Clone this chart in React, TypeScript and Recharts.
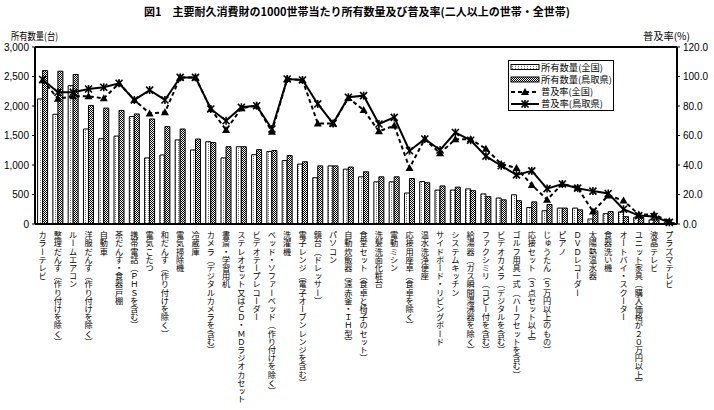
import React from 'react';
import { ComposedChart, Bar, Line, XAxis, YAxis, Legend, ReferenceLine } from 'recharts';

const categories = [
  'カラーテレビ', '整理だんす（作り付けを除く）', 'ルームエアコン', '洋服だんす（作り付けを除く）', '自動車',
  '茶だんす・食器戸棚', '携帯電話（ＰＨＳを含む）', '電気こたつ', '和だんす（作り付けを除く）', '電気掃除機',
  '冷蔵庫', 'カメラ（デジタルカメラを含む）', '書斎・学習用机', 'ステレオセット又はＣＤ・ＭＤラジオカセット',
  'ビデオテープレコーダー', 'ベッド・ソファーベッド（作り付けを除く）', '洗濯機', '電子レンジ（電子オーブンレンジを含む）',
  '鏡台（ドレッサー）', 'パソコン', '自動炊飯器（遠赤釜・ＩＨ型）', '食堂セット（食卓と椅子のセット）', '洗髪洗面化粧台',
  '電動ミシン', '応接用座卓（食卓を除く）', '温水洗浄便座', 'サイドボード・リビングボード', 'システムキッチン',
  '給湯器（ガス瞬間湯沸器を除く）', 'ファクシミリ（コピー付を含む）', 'ビデオカメラ（デジタルを含む）',
  'ゴルフ用具一式（ハーフセットを含む）', '応接セット（３点セット以上）', 'じゅうたん（５万円以上のもの）', 'ピアノ',
  'ＤＶＤレコーダー', '太陽熱温水器', '食器洗い機', 'オートバイ・スクーター', 'ユニット家具（購入価格が２０万円以上）',
  '液晶テレビ', 'プラズマテレビ',
];

// 所有数量（台 / 1000世帯）
const nationalCount = [
  2120, 1860, 2345, 1610, 1445, 1490, 1820, 1120, 1170, 1425,
  1255, 1395, 1120, 1310, 1175, 1230, 1075, 1015, 785, 985,
  930, 800, 715, 715, 525, 720, 575, 575, 595, 510,
  440, 495, 280, 225, 270, 270, 85, 175, 205, 115,
  70, 30,
];
const tottoriCount = [
  2600, 2590, 2535, 2010, 1965, 1925, 1865, 1780, 1650, 1610,
  1440, 1380, 1310, 1310, 1260, 1245, 1160, 1055, 985, 985,
  965, 885, 800, 800, 770, 700, 645, 625, 565, 463,
  410, 395, 375, 330, 270, 240, 222, 210, 124, 113,
  68, 23,
];

// 普及率（%）
const nationalRate = [
  97.5, 85.0, 86.6, 86.6, 85.2, 95.4, 84.1, 75.0, 75.7, 99.4,
  99.4, 78.0, 63.7, 78.5, 80.2, 62.6, 98.3, 97.6, 68.2, 68.2,
  85.4, 77.3, 62.8, 66.7, 38.0, 57.6, 47.9, 57.5, 57.5, 51.0,
  40.7, 38.0, 26.5, 16.5, 27.1, 24.5, 8.5, 19.3, 16.0, 6.4,
  6.4, 1.8,
];
const tottoriRate = [
  98.0, 89.3, 89.3, 91.5, 92.7, 95.4, 84.1, 90.8, 84.1, 99.4,
  99.4, 78.0, 70.0, 79.1, 80.2, 64.4, 98.3, 97.6, 81.4, 68.2,
  85.9, 87.0, 67.8, 72.3, 49.7, 57.6, 50.2, 62.0, 56.8, 46.0,
  39.5, 33.3, 36.0, 24.0, 27.1, 24.3, 22.3, 20.7, 10.0, 5.7,
  5.1, 1.1,
];

const countTicks = [0, 500, 1000, 1500, 2000, 2500, 3000];
const rateTicks = [0, 20, 40, 60, 80, 100, 120];

const seriesNames = ['所有数量(全国)', '所有数量(鳥取県)', '普及率(全国)', '普及率(鳥取県)'];

const data = categories.map((name, i) => ({
  name,
  natCount: nationalCount[i],
  totCount: tottoriCount[i],
  natRate: nationalRate[i],
  totRate: tottoriRate[i],
}));

const jp = '"Noto Sans CJK JP", sans-serif';
const num = '"Liberation Sans", Arial, sans-serif';

const Tri = (props: any) => {
  const { cx, cy } = props;
  if (cx == null || cy == null) return null;
  return <polygon points={`${cx},${cy - 4} ${cx + 4},${cy + 3} ${cx - 4},${cy + 3}`} fill="#000" />;
};

const Star = (props: any) => {
  const { cx, cy } = props;
  if (cx == null || cy == null) return null;
  return (
    <g stroke="#000" strokeWidth={1.6}>
      <line x1={cx - 3.5} y1={cy - 3.5} x2={cx + 3.5} y2={cy + 3.5} />
      <line x1={cx - 3.5} y1={cy + 3.5} x2={cx + 3.5} y2={cy - 3.5} />
      <line x1={cx} y1={cy - 4} x2={cx} y2={cy + 4} />
    </g>
  );
};

const VerticalTick = (props: any) => {
  const { x, y, payload } = props;
  return (
    <text
      x={x}
      y={y + 7}
      fontSize={8.2}
      fontFamily={jp}
      fill="#000"
      textAnchor="start"
      style={{ writingMode: 'vertical-rl' } as any}
    >
      {payload.value}
    </text>
  );
};

// legend text widths
const legendTextLen = [62, 71, 52, 62];

const renderLegend = () => (
  <svg width={106} height={51}>
    <rect x={0.5} y={0.5} width={105} height={50} fill="#fff" stroke="#000" />
    <rect x={3} y={4.5} width={28} height={5} fill="url(#natPat)" stroke="#000" />
    <rect x={3} y={17} width={28} height={5} fill="url(#totPat)" stroke="#000" />
    <line x1={3} y1={32} x2={31} y2={32} stroke="#000" strokeWidth={2} strokeDasharray="4 3" />
    <Tri cx={17} cy={32} />
    <line x1={3} y1={44} x2={31} y2={44} stroke="#000" strokeWidth={2} />
    <Star cx={17} cy={44} />
    {seriesNames.map((s, i) => (
      <text
        key={s}
        x={33}
        y={10.5 + i * 12.2}
        fontSize={9}
        fontFamily={jp}
        fill="#000"
        textLength={legendTextLen[i]}
        lengthAdjust="spacingAndGlyphs"
      >
        {s}
      </text>
    ))}
  </svg>
);

export default function App() {
  return (
    <div style={{ position: 'absolute', left: 0, top: 0, width: 714, height: 410, background: '#fff' }}>
      <svg width={0} height={0} style={{ position: 'absolute' }}>
        <defs>
          <pattern id="natPat" width={3} height={2} patternUnits="userSpaceOnUse">
            <rect width={3} height={2} fill="#fff" />
            <rect x={1} y={0} width={1} height={1} fill="#777" />
          </pattern>
          <pattern id="totPat" width={2} height={2} patternUnits="userSpaceOnUse">
            <rect width={2} height={2} fill="#fff" />
            <rect x={0} y={0} width={1} height={1} fill="#000" />
            <rect x={1} y={1} width={1} height={1} fill="#000" />
          </pattern>
        </defs>
      </svg>

      <ComposedChart
        width={714}
        height={410}
        data={data}
        margin={{ top: 47, right: 0, bottom: 0, left: 0 }}
        barCategoryGap="17%"
        barGap={0}
      >
        <XAxis
          dataKey="name"
          interval={0}
          height={186}
          tick={<VerticalTick />}
          tickLine={false}
          tickSize={0}
          tickMargin={0}
          axisLine={{ stroke: '#000', strokeWidth: 2 }}
        />
        <YAxis
          yAxisId="left"
          width={35}
          domain={[0, 3000]}
          ticks={countTicks}
          tickFormatter={(v: number) => v.toLocaleString('en-US')}
          axisLine={{ stroke: '#000', strokeWidth: 2 }}
          tickLine={{ stroke: '#000' }}
          tickSize={3}
          tickMargin={3}
          tick={{ fontSize: 10, fontFamily: num, fill: '#000' }}
        />
        <YAxis
          yAxisId="right"
          orientation="right"
          width={37}
          domain={[0, 120]}
          ticks={rateTicks}
          tickFormatter={(v: number) => v.toFixed(1)}
          axisLine={{ stroke: '#000', strokeWidth: 2 }}
          tickLine={{ stroke: '#000' }}
          tickSize={3}
          tickMargin={3}
          tick={{ fontSize: 10, fontFamily: num, fill: '#000' }}
        />
        <ReferenceLine yAxisId="left" y={3000} stroke="#000" strokeWidth={2} />
        <Legend
          layout="horizontal"
          verticalAlign="middle"
          align="center"
          content={renderLegend}
          wrapperStyle={{ position: 'absolute', left: 508, top: 60, width: 106, height: 51 }}
        />
        <Bar yAxisId="left" dataKey="natCount" name={seriesNames[0]} fill="url(#natPat)" stroke="#000" strokeWidth={1} isAnimationActive={false} />
        <Bar yAxisId="left" dataKey="totCount" name={seriesNames[1]} fill="url(#totPat)" stroke="#000" strokeWidth={1} isAnimationActive={false} />
        <Line yAxisId="right" dataKey="natRate" name={seriesNames[2]} stroke="#000" strokeWidth={2} strokeDasharray="4 3" dot={<Tri />} activeDot={false} isAnimationActive={false} />
        <Line yAxisId="right" dataKey="totRate" name={seriesNames[3]} stroke="#000" strokeWidth={2} dot={<Star />} activeDot={false} isAnimationActive={false} />
      </ComposedChart>

      <svg width={714} height={410} style={{ position: 'absolute', left: 0, top: 0, pointerEvents: 'none' }}>
        <text x={357} y={16} textAnchor="middle" fontSize={11} fontWeight="bold" fontFamily={jp} fill="#000">
          図1　主要耐久消費財の1000世帯当たり所有数量及び普及率(二人以上の世帯・全世帯)
        </text>
        <text x={11} y={40} fontSize={10} fontFamily={jp} fill="#000" textLength={47} lengthAdjust="spacingAndGlyphs">所有数量(台)</text>
        <text x={643} y={40} fontSize={10} fontFamily={jp} fill="#000" textLength={47} lengthAdjust="spacingAndGlyphs">普及率(%)</text>
      </svg>
    </div>
  );
}
